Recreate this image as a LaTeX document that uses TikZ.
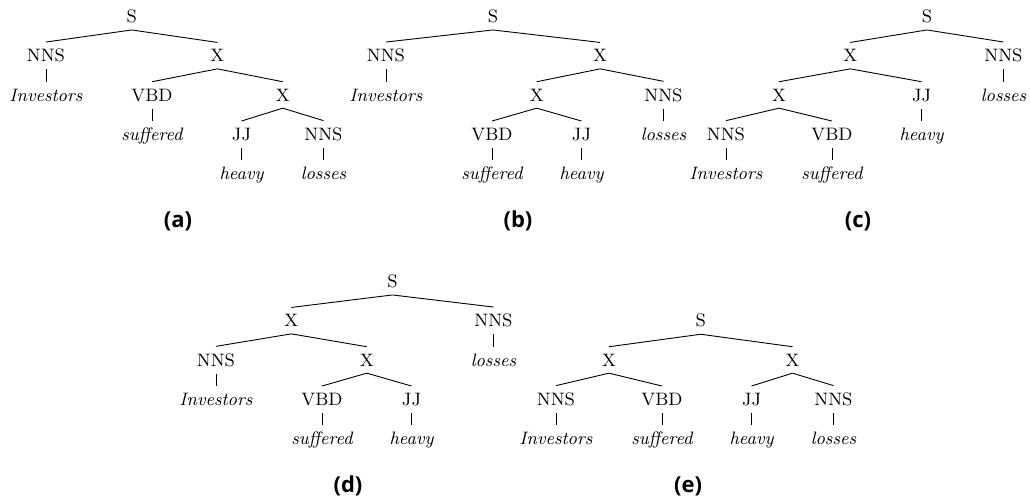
\documentclass[tikz,border=0pt]{standalone}
\usepackage{fontspec}
\newfontfamily\labfont{Open Sans}
\begin{document}
\begin{tikzpicture}[x=0.5pt,y=-0.5pt,
  cat/.style={anchor=base,font=\fontsize{9}{11}\selectfont},
  word/.style={anchor=base,font=\fontsize{9}{11}\selectfont\itshape},
  lab/.style={anchor=base,font=\labfont\bfseries\fontsize{11}{13}\selectfont},
  edge/.style={line width=0.45pt}]
\useasboundingbox (0,0) rectangle (1030,501);
% (a)
\node[cat] (aS) at (131.7,22.5) {S};
\node[cat] (aN) at (46,61.8) {NNS};
\node[word] (aNw) at (46,101.1) {Investors};
\node[cat] (aX) at (217.4,61.8) {X};
\node[cat] (aV) at (152,101.1) {VBD};
\node[word] (aVw) at (152,140.4) {suffered};
\node[cat] (aX2) at (282.75,101.1) {X};
\node[cat] (aJ) at (241.5,140.4) {JJ};
\node[word] (aJw) at (241.5,179.7) {heavy};
\node[cat] (aN2) at (323.5,140.4) {NNS};
\node[word] (aN2w) at (323.5,179.7) {losses};
\node[lab] (aL) at (178,228) {(a)};
% (b)
\node[cat] (bS) at (493,22.5) {S};
\node[cat] (bN) at (386,61.8) {NNS};
\node[word] (bNw) at (386,101.1) {Investors};
\node[cat] (bX) at (600.1,61.8) {X};
\node[cat] (bX2) at (536.75,101.1) {X};
\node[cat] (bV) at (492,140.4) {VBD};
\node[word] (bVw) at (492,179.7) {suffered};
\node[cat] (bJ) at (581.5,140.4) {JJ};
\node[word] (bJw) at (581.5,179.7) {heavy};
\node[cat] (bN2) at (663.5,101.1) {NNS};
\node[word] (bN2w) at (663.5,140.4) {losses};
\node[lab] (bL) at (518,228) {(b)};
% (c)
\node[cat] (cS) at (926.9,22.5) {S};
\node[cat] (cX) at (850.25,61.8) {X};
\node[cat] (cX2) at (779,101.1) {X};
\node[cat] (cN) at (726,140.4) {NNS};
\node[word] (cNw) at (726,179.7) {Investors};
\node[cat] (cV) at (832,140.4) {VBD};
\node[word] (cVw) at (832,179.7) {suffered};
\node[cat] (cJ) at (921.5,101.1) {JJ};
\node[word] (cJw) at (921.5,140.4) {heavy};
\node[cat] (cN2) at (1003.5,61.8) {NNS};
\node[word] (cN2w) at (1003.5,101.1) {losses};
\node[lab] (cL) at (858,228) {(c)};
% (d)
\node[cat] (dS) at (392.4,287.5) {S};
\node[cat] (dX) at (291.4,326.8) {X};
\node[cat] (dN) at (216,366.1) {NNS};
\node[word] (dNw) at (216,405.4) {Investors};
\node[cat] (dX2) at (366.75,366.1) {X};
\node[cat] (dV) at (322,405.4) {VBD};
\node[word] (dVw) at (322,444.7) {suffered};
\node[cat] (dJ) at (411.5,405.4) {JJ};
\node[word] (dJw) at (411.5,444.7) {heavy};
\node[cat] (dN2) at (493.5,326.8) {NNS};
\node[word] (dN2w) at (493.5,366.1) {losses};
\node[lab] (dL) at (348,493) {(d)};
% (e)
\node[cat] (eS) at (700.75,326.8) {S};
\node[cat] (eX) at (609,366.1) {X};
\node[cat] (eN) at (556,405.4) {NNS};
\node[word] (eNw) at (556,444.7) {Investors};
\node[cat] (eV) at (662,405.4) {VBD};
\node[word] (eVw) at (662,444.7) {suffered};
\node[cat] (eX2) at (792.5,366.1) {X};
\node[cat] (eJ) at (751.5,405.4) {JJ};
\node[word] (eJw) at (751.5,444.7) {heavy};
\node[cat] (eN2) at (833.5,405.4) {NNS};
\node[word] (eN2w) at (833.5,444.7) {losses};
\node[lab] (eL) at (688,493) {(e)};
% edges
\foreach \p/\c in {aS/aN,aS/aX,aN/aNw,aX/aV,aX/aX2,aV/aVw,aX2/aJ,aX2/aN2,aJ/aJw,aN2/aN2w,
  bS/bN,bS/bX,bN/bNw,bX/bX2,bX/bN2,bX2/bV,bX2/bJ,bV/bVw,bJ/bJw,bN2/bN2w,
  cS/cX,cS/cN2,cX/cX2,cX/cJ,cX2/cN,cX2/cV,cN/cNw,cV/cVw,cJ/cJw,cN2/cN2w,
  dS/dX,dS/dN2,dX/dN,dX/dX2,dN/dNw,dX2/dV,dX2/dJ,dV/dVw,dJ/dJw,dN2/dN2w,
  eS/eX,eS/eX2,eX/eN,eX/eV,eN/eNw,eV/eVw,eX2/eJ,eX2/eN2,eJ/eJw,eN2/eN2w}
  \draw[edge] (\p.south) -- (\c.north);
\end{tikzpicture}
\end{document}
